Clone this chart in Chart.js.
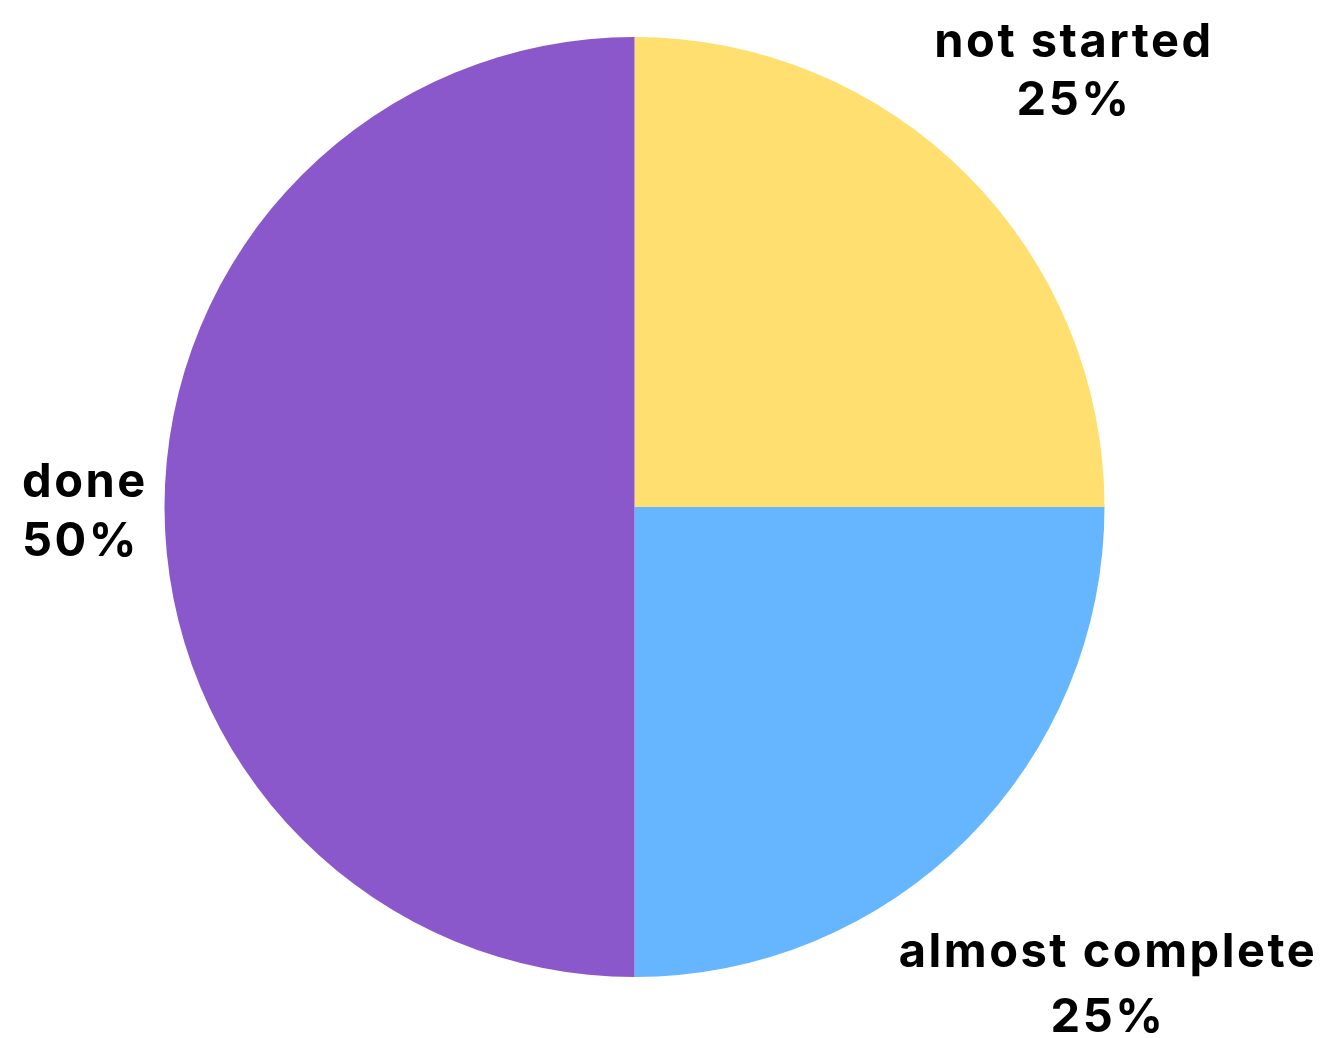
<!DOCTYPE html>
<html>
<head>
<meta charset="utf-8">
<script src="https://cdn.jsdelivr.net/npm/chart.js@4/dist/chart.umd.min.js"></script>
<style>
  html, body { margin: 0; padding: 0; background: #ffffff; }
  #wrap { width: 1325px; height: 1038px; position: relative; }
</style>
</head>
<body>
<div id="wrap"><canvas id="c"></canvas></div>
<script>
const categories = ["not started", "almost complete", "done"];
const values = [25, 25, 50];
const percentLabels = ["25%", "25%", "50%"];
const colors = ["#FFDF6F", "#66B5FF", "#8A58CB"];

// label placement (text anchors), align, line spacing
const labelAnchors = [
  { x: 1074, y: 57, align: "center", gap: 58 },
  { x: 1108, y: 967, align: "center", gap: 65 },
  { x: 22, y: 497, align: "left", gap: 59 }
];

const labelPlugin = {
  id: "sliceLabels",
  afterDraw(chart) {
    const ctx = chart.ctx;
    ctx.save();
    ctx.fillStyle = "#000000";
    ctx.font = "bold 47px Inter, sans-serif";
    ctx.letterSpacing = "2.5px";
    ctx.textBaseline = "alphabetic";
    categories.forEach((name, i) => {
      const a = labelAnchors[i];
      ctx.textAlign = a.align;
      ctx.fillText(name, a.x, a.y);
      ctx.fillText(percentLabels[i], a.x, a.y + a.gap);
    });
    ctx.restore();
  }
};

new Chart(document.getElementById("c"), {
  type: "pie",
  data: {
    labels: categories,
    datasets: [{
      data: values,
      backgroundColor: colors,
      borderWidth: 0,
      hoverOffset: 0
    }]
  },
  options: {
    responsive: true,
    maintainAspectRatio: false,
    animation: false,
    events: [],
    layout: { padding: { top: 37, bottom: 61, left: 164, right: 220 } },
    plugins: {
      legend: { display: false },
      tooltip: { enabled: false }
    }
  },
  plugins: [labelPlugin]
});
</script>
</body>
</html>
